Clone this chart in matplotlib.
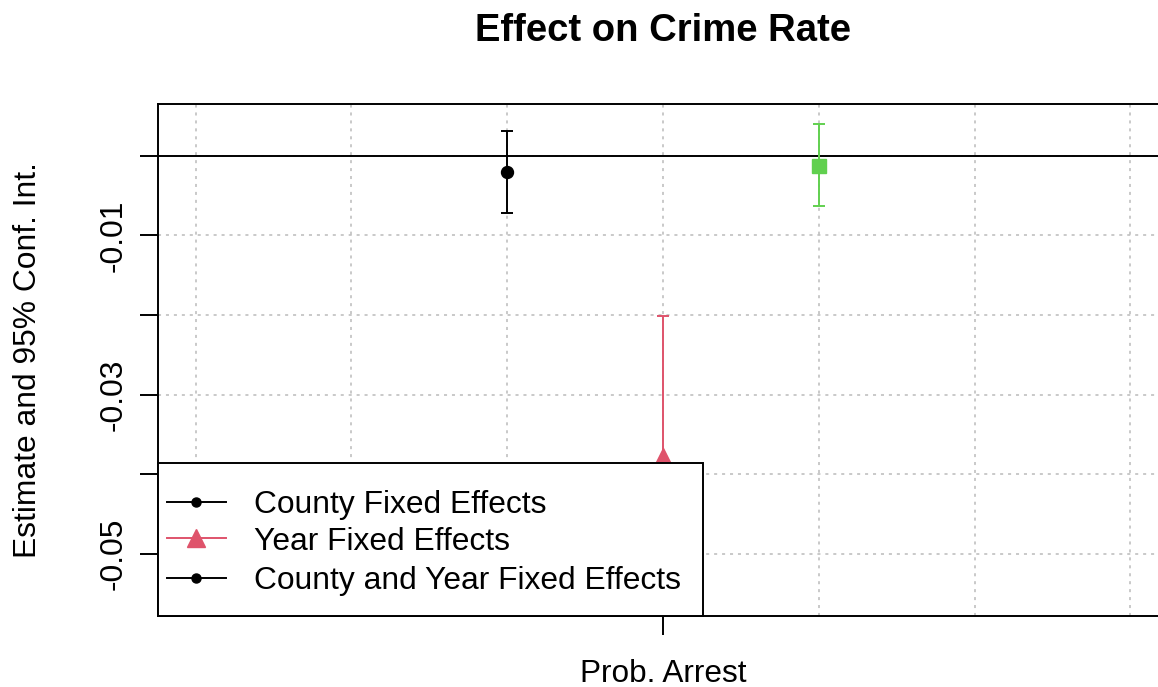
import matplotlib
matplotlib.use("Agg")
import matplotlib.pyplot as plt
from matplotlib.patches import Rectangle

plt.rcParams['font.family'] = ['Liberation Sans', 'DejaVu Sans']

# ---- data ----
models = ["County Fixed Effects", "Year Fixed Effects", "County and Year Fixed Effects"]
coef_label = "Prob. Arrest"
offsets = [-1, 0, 1]
estimates = [-0.0020, -0.0378, -0.0012]
ci_low = [-0.0072, -0.0555, -0.0063]
ci_high = [0.0031, -0.0201, 0.0040]
colors = ["black", "#DF536B", "#61D04F"]
markers = ["o", "^", "s"]
marker_sizes = [8.6, 12.7, 10.5]
legend_colors = ["black", "#DF536B", "black"]
legend_markers = ["o", "^", "o"]
legend_msizes = [6.5, 13, 6.5]
ytick_vals = [0.0, -0.01, -0.02, -0.03, -0.04, -0.05]
ytick_labels = ["", "-0.01", "", "-0.03", "", "-0.05"]
xgrid_vals = [-3, -2, -1, 0, 1, 2, 3]

W, H = 1158, 687
fig = plt.figure(figsize=(W / 100, H / 100), dpi=100)
L, R, T, B = 158, 1162, 104, 616
ax = fig.add_axes([L / W, (H - B) / H, (R - L) / W, (B - T) / H])

ax.set_xlim(-3.241, 3.203)
ax.set_ylim(-0.05786, 0.00654)

LW = 1.4

# grid
for xv in xgrid_vals:
    ax.axvline(xv, color="#BBBBBB", lw=1.1, dashes=(2, 3.2), zorder=1)
for yv in ytick_vals:
    ax.axhline(yv, color="#BBBBBB", lw=1.1, dashes=(2, 3.2), zorder=1)
ax.axhline(0, color="black", lw=LW, zorder=2)

for x, e, lo, hi, c, m, ms in zip(offsets, estimates, ci_low, ci_high, colors, markers, marker_sizes):
    ax.errorbar([x], [e], yerr=[[e - lo], [hi - e]], fmt=m, color=c, ms=ms,
                elinewidth=LW, capsize=4, capthick=LW, zorder=3, clip_on=True)

# ticks
ax.set_yticks(ytick_vals)
ax.set_yticklabels(ytick_labels)
ax.set_xticks([0])
ax.set_xticklabels([coef_label])
ax.tick_params(axis="y", direction="out", length=13, width=LW, labelsize=22.9, pad=8,
               labelrotation=90)
for lab in ax.get_yticklabels():
    lab.set_va("center")
ax.tick_params(axis="x", direction="out", length=14, width=LW, labelsize=22.7, pad=17)
for s in ax.spines.values():
    s.set_linewidth(LW)

# legend (manual, R style)
def axx(px):
    return (px - L) / (R - L)

def axy(py):
    return (B - py) / (B - T)

ax.add_patch(Rectangle((0, 0), axx(703), axy(463), transform=ax.transAxes,
                       facecolor="white", edgecolor="black", lw=LW, zorder=5, clip_on=False))
rows = [501.7, 538.3, 577.7]
for ry, name, c, m, ms in zip(rows, models, legend_colors, legend_markers, legend_msizes):
    ax.plot([axx(167), axx(226)], [axy(ry), axy(ry)], color=c, lw=LW,
            transform=ax.transAxes, zorder=6, clip_on=False)
    ax.plot([axx(196)], [axy(ry)], marker=m, color=c, ms=ms,
            transform=ax.transAxes, zorder=6, clip_on=False)
    ax.text(axx(254), axy(ry), name, transform=ax.transAxes, fontsize=22.9,
            ha="left", va="center_baseline", zorder=7)

fig.text(663 / W, 1 - 31 / H, "Effect on Crime Rate", ha="center", va="center",
         fontsize=27.5, fontweight="bold")
fig.text(28 / W, 1 - 360 / H, "Estimate and 95% Conf. Int.", ha="center", va="center",
         rotation=90, fontsize=22.9)

fig.savefig("out.png", dpi=100)
